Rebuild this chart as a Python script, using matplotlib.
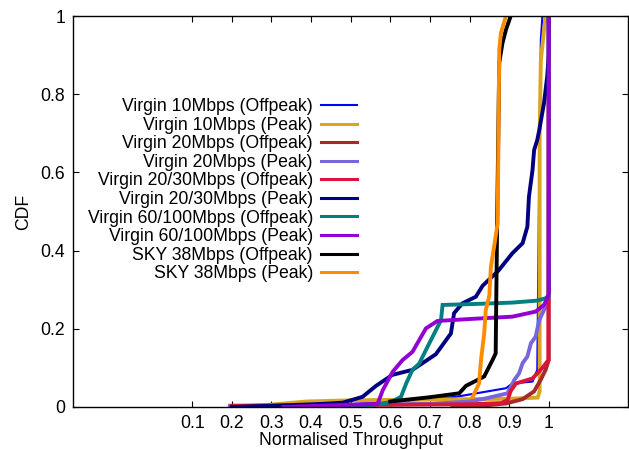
import matplotlib
matplotlib.use("Agg")
import matplotlib.pyplot as plt

plt.rcParams["font.family"] = ["Liberation Sans", "DejaVu Sans"]

labels = [
    "Virgin 10Mbps (Offpeak)",
    "Virgin 10Mbps (Peak)",
    "Virgin 20Mbps (Offpeak)",
    "Virgin 20Mbps (Peak)",
    "Virgin 20/30Mbps (Offpeak)",
    "Virgin 20/30Mbps (Peak)",
    "Virgin 60/100Mbps (Offpeak)",
    "Virgin 60/100Mbps (Peak)",
    "SKY 38Mbps (Offpeak)",
    "SKY 38Mbps (Peak)",
]
colors = ["#0000ff", "#daa520", "#a52a2a", "#7766dd", "#dc143c",
          "#000080", "#008080", "#9400d3", "#000000", "#ff8c00"]

# Virgin 10Mbps (Offpeak)
v10_off_x = [0.35, 0.55, 0.70, 0.766, 0.892, 0.908, 0.959, 0.971, 0.975, 0.98, 0.984]
v10_off_y = [0.0, 0.01, 0.02, 0.026, 0.048, 0.06, 0.065, 0.095, 0.5, 0.94, 1.0]
# Virgin 10Mbps (Peak)
v10_peak_x = [0.20, 0.30, 0.388, 0.50, 0.70, 0.90, 0.972, 0.977, 0.977, 0.98, 0.988, 0.992]
v10_peak_y = [0.0, 0.006, 0.014, 0.017, 0.019, 0.021, 0.024, 0.04, 0.70, 0.887, 0.964, 1.0]
# Virgin 20Mbps (Offpeak)
v20_off_x = [0.757, 0.85, 0.892, 0.934, 0.963, 0.98, 0.992, 1.0, 1.0]
v20_off_y = [0.0, 0.005, 0.009, 0.02, 0.04, 0.07, 0.095, 0.12, 1.0]
# Virgin 20Mbps (Peak)
v20_peak_x = [0.195, 0.40, 0.70, 0.80, 0.841, 0.896, 0.913, 0.925, 0.934, 0.946,
              0.955, 0.967, 0.976, 0.988, 0.996, 1.0, 1.0]
v20_peak_y = [0.003, 0.004, 0.008, 0.014, 0.022, 0.035, 0.069, 0.086, 0.112, 0.129,
              0.163, 0.18, 0.222, 0.248, 0.265, 0.275, 1.0]
# Virgin 20/30Mbps (Offpeak)
v2030_off_x = [0.20, 0.50, 0.80, 0.88, 0.896, 0.904, 0.917, 0.959, 0.984, 0.999, 1.0]
v2030_off_y = [0.003, 0.005, 0.007, 0.01, 0.018, 0.041, 0.06, 0.073, 0.1, 0.12, 1.0]
# Virgin 20/30Mbps (Peak)
v2030_peak_x = [0.20, 0.30, 0.43, 0.48, 0.53, 0.564, 0.605, 0.656, 0.693, 0.715, 0.753,
                0.761, 0.782, 0.816, 0.833, 0.866, 0.874, 0.908, 0.934, 0.946, 0.95,
                0.959, 0.963, 0.971, 0.976, 0.988, 0.996, 1.0, 1.0]
v2030_peak_y = [0.0, 0.003, 0.008, 0.011, 0.026, 0.054, 0.082, 0.095, 0.12, 0.135, 0.188,
                0.24, 0.265, 0.282, 0.31, 0.342, 0.35, 0.393, 0.419, 0.461, 0.538,
                0.606, 0.657, 0.683, 0.708, 0.777, 0.845, 0.9, 1.0]
# Virgin 60/100Mbps (Offpeak)
v60_off_x = [0.48, 0.55, 0.60, 0.627, 0.64, 0.656, 0.673, 0.694, 0.707, 0.728, 0.732,
             0.80, 0.908, 0.97, 0.992, 1.0, 1.0]
v60_off_y = [0.0, 0.005, 0.012, 0.026, 0.06, 0.095, 0.111, 0.154, 0.18, 0.222, 0.261,
             0.263, 0.267, 0.272, 0.278, 0.285, 1.0]
# Virgin 60/100Mbps (Peak)
v60_peak_x = [0.33, 0.45, 0.568, 0.581, 0.606, 0.631, 0.656, 0.673, 0.69, 0.719, 0.80,
              0.908, 0.967, 0.988, 0.996, 1.0, 1.0]
v60_peak_y = [0.0, 0.004, 0.008, 0.043, 0.09, 0.12, 0.141, 0.171, 0.201, 0.22, 0.225,
              0.231, 0.244, 0.261, 0.278, 0.29, 1.0]
# SKY 38Mbps (Offpeak)
sky_off_x = [0.60, 0.70, 0.774, 0.791, 0.82, 0.837, 0.858, 0.866, 0.870, 0.875, 0.883, 0.892, 0.904]
sky_off_y = [0.014, 0.025, 0.035, 0.054, 0.069, 0.078, 0.12, 0.137, 0.5, 0.88, 0.93, 0.965, 1.0]
# SKY 38Mbps (Peak)
sky_peak_x = [0.808, 0.824, 0.829, 0.837, 0.841, 0.85, 0.854, 0.862, 0.871, 0.875, 0.879, 0.892]
sky_peak_y = [0.026, 0.06, 0.12, 0.188, 0.248, 0.285, 0.359, 0.41, 0.47, 0.913, 0.956, 1.0]

series = [
    (v10_off_x, v10_off_y), (v10_peak_x, v10_peak_y),
    (v20_off_x, v20_off_y), (v20_peak_x, v20_peak_y),
    (v2030_off_x, v2030_off_y), (v2030_peak_x, v2030_peak_y),
    (v60_off_x, v60_off_y), (v60_peak_x, v60_peak_y),
    (sky_off_x, sky_off_y), (sky_peak_x, sky_peak_y),
]

xticks = [0.1, 0.2, 0.3, 0.4, 0.5, 0.6, 0.7, 0.8, 0.9, 1]
yticks = [0, 0.2, 0.4, 0.6, 0.8, 1]

fig = plt.figure(figsize=(6.29, 4.5), dpi=100)
ax = fig.add_axes([0.1166, 0.0956, 0.8818, 0.8688])

for i, (xs, ys) in enumerate(series):
    lw = 1.5 if i == 0 else 2.8
    ax.plot(xs, ys, color=colors[i], lw=lw, label=labels[i], solid_joinstyle="miter")

ax.set_xlim(-0.2, 1.2)
ax.set_ylim(0, 1)
ax.set_xticks(xticks)
ax.set_xticklabels(["%g" % t for t in xticks])
ax.set_yticks(yticks)
ax.set_yticklabels(["%g" % t for t in yticks])
ax.tick_params(direction="in", top=True, right=True, length=4.5, width=0.8,
               labelsize=12.7, pad=6)
ax.set_xlabel("Normalised Throughput", fontsize=12.7, labelpad=0)
ax.set_ylabel("CDF", fontsize=12.7, labelpad=6)
for s in ax.spines.values():
    s.set_linewidth(1.0)

leg = ax.legend(loc="upper right", bbox_to_anchor=(0.567, 0.782),
                bbox_transform=fig.transFigure, frameon=False, markerfirst=False,
                fontsize=12.7, handlelength=2.0, handletextpad=0.48,
                labelspacing=0.09, borderpad=0, borderaxespad=0)
for t in leg.get_texts():
    t.set_ha("right")
for i, l in enumerate(leg.get_lines()):
    l.set_linewidth(1.5 if i == 0 else 2.2)

fig.savefig("out.png", dpi=100)
